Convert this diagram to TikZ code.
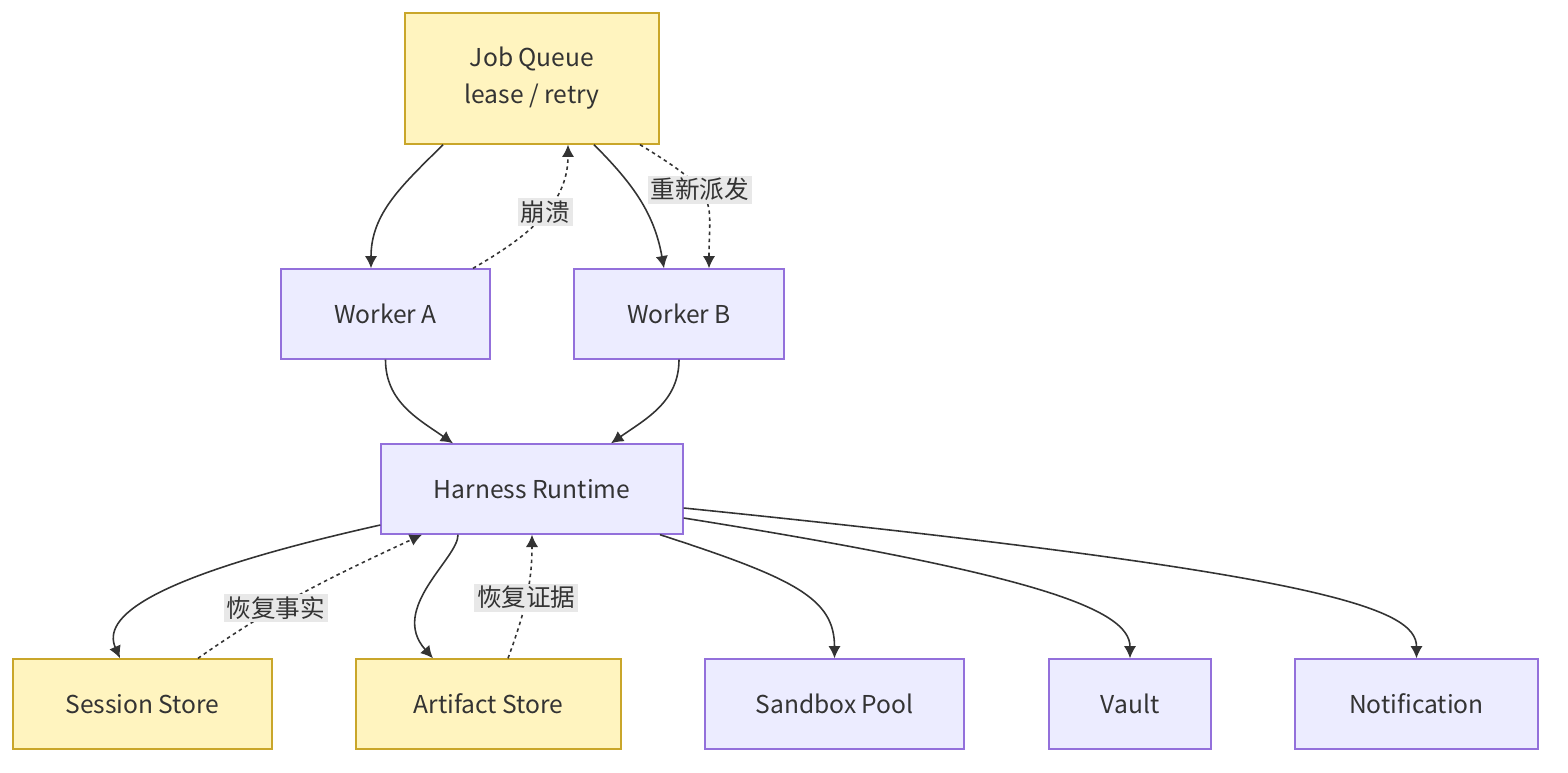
\documentclass[tikz,border=0pt]{standalone}
\usepackage{fontspec}
\setmainfont{Noto Sans CJK SC}
\usetikzlibrary{calc,arrows.meta}
\definecolor{ybox}{HTML}{FFF4BF}
\definecolor{yline}{HTML}{C9A62A}
\definecolor{pbox}{HTML}{ECECFF}
\definecolor{pline}{HTML}{9370DB}
\definecolor{ink}{HTML}{333333}
\begin{document}
\begin{tikzpicture}[x=0.02cm,y=-0.02cm,
    every node/.style={text=ink,font=\fontsize{14}{21}\selectfont},
    box/.style={rectangle,draw,line width=0.8pt,inner sep=0pt,align=center},
    store/.style={box,fill=ybox,draw=yline},
    svc/.style={box,fill=pbox,draw=pline},
    arr/.style={draw=ink,line width=0.9pt,-{Latex[length=7pt,width=7pt]}},
    back/.style={arr,dashed,dash pattern=on 2pt off 2pt},
    lbl/.style={fill=black!9,inner sep=1.5pt}
  ]
  \useasboundingbox (0,0) rectangle (1568,772);
  \node[store,minimum width=5.08cm,minimum height=2.62cm] (jq) at (532,78.5) {Job Queue\\lease / retry};
  \node[svc,minimum width=4.18cm,minimum height=1.8cm] (wa) at (385.5,314) {Worker A};
  \node[svc,minimum width=4.2cm,minimum height=1.8cm] (wb) at (679,314) {Worker B};
  \node[svc,minimum width=6.04cm,minimum height=1.8cm] (hr) at (532,489) {Harness Runtime};
  \node[store,minimum width=5.18cm,minimum height=1.8cm] (ss) at (142.5,704) {Session Store};
  \node[store,minimum width=5.3cm,minimum height=1.8cm] (as) at (488.5,704) {Artifact Store};
  \node[svc,minimum width=5.18cm,minimum height=1.8cm] (sp) at (834.5,704) {Sandbox Pool};
  \node[svc,minimum width=3.24cm,minimum height=1.8cm] (va) at (1130,704) {Vault};
  \node[svc,minimum width=4.86cm,minimum height=1.8cm] (nt) at (1416.5,704) {Notification};
  % queue to workers
  \draw[arr] ($(jq.south)+(-89,0)$) to[out=-135,in=90] ($(wa.north)+(-14.5,0)$);
  \draw[back] ($(wa.north)+(87.5,0)$) to[out=30,in=-90] node[lbl,pos=0.55] {崩溃} ($(jq.south)+(36,0)$);
  \draw[arr] ($(jq.south)+(62,0)$) to[out=-45,in=100] ($(wb.north)+(-15,0)$);
  \draw[back] ($(jq.south)+(108,0)$) .. controls ($(jq.south)+(190,50)$) and ($(wb.north)+(30,-70)$) .. node[lbl,pos=0.4] {重新派发} ($(wb.north)+(30,0)$);
  % workers to runtime
  \draw[arr] (wa.south) to[out=-90,in=145] ($(hr.north)+(-79,0)$);
  \draw[arr] (wb.south) to[out=-90,in=35] ($(hr.north)+(79,0)$);
  % runtime to backends
  \draw[arr] ($(hr.west)+(0,36)$) .. controls ($(ss.north)+(0,-80)$) and ($(ss.north)+(-40,-40)$) .. ($(ss.north)+(-22.5,0)$);
  \draw[back] ($(ss.north)+(55.5,0)$) to[out=35,in=-155] node[lbl,pos=0.35] {恢复事实} ($(hr.south)+(-110,0)$);
  \draw[arr] ($(hr.south)+(-74,0)$) .. controls ($(as.north)+(-30,-100)$) and ($(as.north)+(-100,-50)$) .. ($(as.north)+(-55.5,0)$);
  \draw[back] ($(as.north)+(19.5,0)$) to[out=70,in=-90] node[lbl,pos=0.5] {恢复证据} (hr.south);
  \draw[arr] ($(hr.south)+(128,0)$) .. controls ($(sp.north)+(-40,-80)$) and ($(sp.north)+(0,-60)$) .. (sp.north);
  \draw[arr] ($(hr.east)+(0,29)$) .. controls ($(va.north)+(-100,-85)$) and ($(va.north)+(0,-50)$) .. (va.north);
  \draw[arr] ($(hr.east)+(0,19)$) .. controls ($(nt.north)+(-90,-85)$) and ($(nt.north)+(0,-50)$) .. (nt.north);
\end{tikzpicture}
\end{document}
